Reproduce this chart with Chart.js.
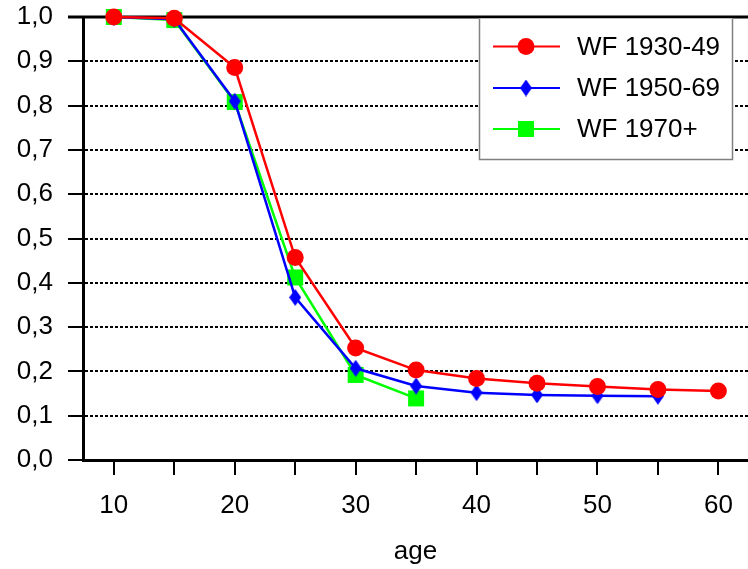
<!DOCTYPE html>
<html>
<head>
<meta charset="utf-8">
<script src="https://cdn.jsdelivr.net/npm/chart.js@4/dist/chart.umd.min.js"></script>
<style>
  html, body { margin: 0; padding: 0; background: #fff; }
  #wrap { width: 748px; height: 569px; }
</style>
</head>
<body>
<div id="wrap"><canvas id="c" width="748" height="569"></canvas></div>
<script>
// ---- data ----
const ages = [10, 15, 20, 25, 30, 35, 40, 45, 50, 55, 60];
const wf1930 = [1.000, 0.997, 0.886, 0.457, 0.253, 0.203, 0.184, 0.173, 0.166, 0.159, 0.156];
const wf1950 = [1.000, 0.995, 0.810, 0.367, 0.207, 0.167, 0.152, 0.147, 0.145, 0.144];
const wf1970 = [1.000, 0.993, 0.808, 0.412, 0.192, 0.139];
const seriesNames = ['WF 1930-49', 'WF 1950-69', 'WF 1970+'];
const yTicks = [0, 0.1, 0.2, 0.3, 0.4, 0.5, 0.6, 0.7, 0.8, 0.9, 1.0];
const xLabelTicks = [10, 20, 30, 40, 50, 60];
const axisTitle = 'age';

const FONT = '"Liberation Sans", Arial, sans-serif';
const FS = 26;

function toPts(vals) { return vals.map((v, i) => ({ x: ages[i], y: v })); }

// diamond marker
function makeDiamond(w, h, color) {
  const c = document.createElement('canvas');
  c.width = w; c.height = h;
  const g = c.getContext('2d');
  g.fillStyle = color;
  g.beginPath();
  g.moveTo(w / 2, 0); g.lineTo(w, h / 2); g.lineTo(w / 2, h); g.lineTo(0, h / 2);
  g.closePath(); g.fill();
  return c;
}
const diamond = makeDiamond(12, 17, '#0000ff');

const topLinePlugin = {
  id: 'topLine',
  beforeDatasetsDraw(chart) {
    const { ctx, chartArea } = chart;
    ctx.save();
    ctx.strokeStyle = '#000';
    ctx.lineWidth = 3;
    ctx.beginPath();
    ctx.moveTo(chartArea.left - 15, chartArea.top);
    ctx.lineTo(chartArea.right, chartArea.top);
    ctx.stroke();
    ctx.restore();
  }
};

const legendPlugin = {
  id: 'boxLegend',
  afterDatasetsDraw(chart) {
    const { ctx, chartArea } = chart;
    const right = chartArea.right - 15;
    const left = right - 254;
    const top = chartArea.top;
    const bottom = top + 143;
    ctx.save();
    ctx.fillStyle = '#fff';
    ctx.fillRect(left, top + 1.5, right - left, bottom - top - 1.5);
    ctx.strokeStyle = '#808080';
    ctx.lineWidth = 1.5;
    ctx.beginPath();
    ctx.moveTo(left + 0.5, top + 1.5);
    ctx.lineTo(left + 0.5, bottom - 0.5);
    ctx.lineTo(right - 0.5, bottom - 0.5);
    ctx.lineTo(right - 0.5, top + 1.5);
    ctx.stroke();
    const rows = [top + 29.5, top + 71, top + 112];
    const ds = chart.data.datasets;
    ds.forEach((d, i) => {
      const y = rows[i];
      ctx.strokeStyle = d.borderColor;
      ctx.lineWidth = 2;
      ctx.beginPath();
      ctx.moveTo(left + 14, y);
      ctx.lineTo(left + 81, y);
      ctx.stroke();
      const cx = left + 47;
      ctx.fillStyle = d.backgroundColor;
      if (i === 0) {
        ctx.beginPath(); ctx.arc(cx, y, 8.5, 0, Math.PI * 2); ctx.fill();
      } else if (i === 1) {
        ctx.drawImage(diamond, cx - 6, y - 8.5);
      } else {
        ctx.fillRect(cx - 8, y - 8, 16, 16);
      }
      ctx.fillStyle = '#000';
      ctx.font = FS + 'px ' + FONT;
      ctx.textBaseline = 'middle';
      ctx.textAlign = 'left';
      ctx.fillText(d.label, left + 98, y + 1);
    });
    ctx.restore();
  }
};

function zeroPad(scale) {
  scale.paddingTop = 0; scale.paddingBottom = 0;
  scale.paddingLeft = 0; scale.paddingRight = 0;
}

new Chart(document.getElementById('c'), {
  type: 'line',
  data: {
    datasets: [
      {
        label: seriesNames[0], data: toPts(wf1930),
        borderColor: '#ff0000', backgroundColor: '#ff0000', borderWidth: 2.5,
        pointStyle: 'circle', pointRadius: 8.5, pointBorderWidth: 0, pointHoverRadius: 8.5,
        clip: false
      },
      {
        label: seriesNames[1], data: toPts(wf1950),
        borderColor: '#0000ff', backgroundColor: '#0000ff', borderWidth: 2.5,
        pointStyle: diamond, pointRadius: 8, pointBorderWidth: 0,
        clip: false
      },
      {
        label: seriesNames[2], data: toPts(wf1970),
        borderColor: '#00ff00', backgroundColor: '#00ff00', borderWidth: 2.5,
        pointStyle: 'rect', pointRadius: 11.3, pointBorderWidth: 0, pointHoverRadius: 11.3,
        clip: false
      }
    ]
  },
  options: {
    responsive: false,
    animation: false,
    devicePixelRatio: 1,
    layout: { autoPadding: false, padding: { top: 17, right: 0, left: 0, bottom: 0 } },
    plugins: { legend: { display: false }, tooltip: { enabled: false } },
    elements: { line: { tension: 0 } },
    scales: {
      x: {
        type: 'linear',
        min: 7.45, max: 62.45,
        afterBuildTicks(scale) { scale.ticks = ages.map(v => ({ value: v })); },
        afterFit(scale) { scale.height = 109; zeroPad(scale); },
        grid: { drawOnChartArea: false, drawTicks: true, tickLength: 15, color: '#000', tickColor: '#000', lineWidth: 2 },
        border: { display: true, color: '#000', width: 3 },
        ticks: {
          autoSkip: false, maxRotation: 0, padding: 15, color: '#000',
          font: { family: FONT, size: FS },
          callback: (v) => xLabelTicks.includes(v) ? String(v) : ''
        },
        title: { display: true, text: axisTitle, color: '#000', font: { family: FONT, size: FS }, padding: { top: 0, bottom: 2 } }
      },
      y: {
        min: 0, max: 1,
        afterBuildTicks(scale) { scale.ticks = yTicks.map(v => ({ value: v })); },
        afterFit(scale) { scale.width = 83; zeroPad(scale); },
        grid: {
          drawTicks: true, tickLength: 15, lineWidth: 2, tickWidth: 2,
          color: (c) => (c.tick && (c.tick.value === 0 || c.tick.value === 1)) ? 'rgba(0,0,0,0)' : '#000',
          tickColor: '#000', tickBorderDash: []
        },
        border: { display: true, color: '#000', width: 3, dash: [3, 2] },
        ticks: {
          padding: 15, color: '#000',
          font: { family: FONT, size: FS },
          callback: (v) => v.toFixed(1).replace('.', ',')
        }
      }
    }
  },
  plugins: [topLinePlugin, legendPlugin]
});
</script>
</body>
</html>
